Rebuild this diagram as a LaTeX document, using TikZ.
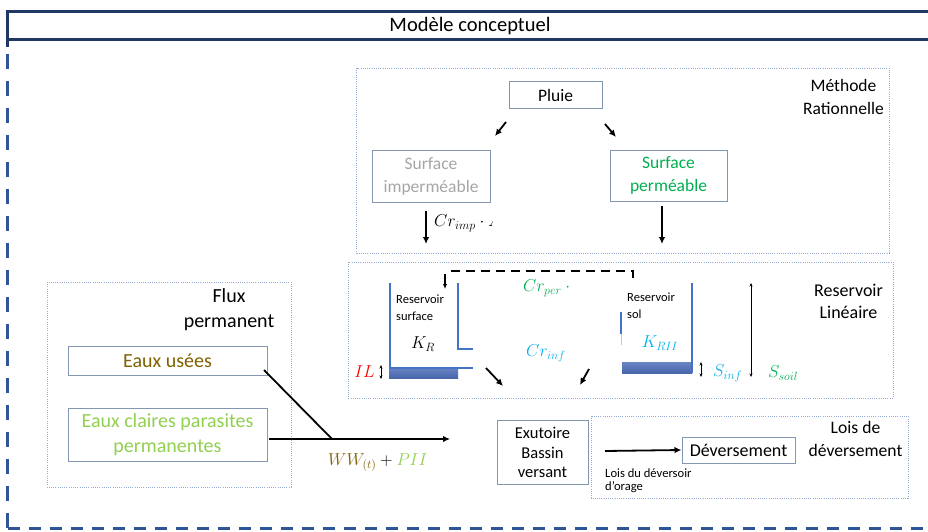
\documentclass[tikz,border=0pt]{standalone}
\usepackage{fontspec}
\setmainfont{Carlito}
\usetikzlibrary{arrows.meta}
\definecolor{navy}{RGB}{32,56,100}
\definecolor{dashblue}{RGB}{47,85,151}
\definecolor{boxgray}{RGB}{132,151,176}
\definecolor{dotblue}{RGB}{150,172,215}
\definecolor{impgray}{RGB}{166,166,166}
\definecolor{pgreen}{RGB}{0,176,80}
\definecolor{cyanb}{RGB}{0,176,240}
\definecolor{brownw}{RGB}{128,96,0}
\definecolor{lgreen}{RGB}{146,208,80}
\definecolor{wallblue}{RGB}{68,114,196}
\definecolor{sedblue}{RGB}{72,102,172}
\definecolor{sedtop}{RGB}{105,132,195}
\definecolor{faintblue}{RGB}{180,200,235}
\newcommand\szTitle{\fontsize{20.5}{24}\selectfont}
\newcommand\szMain{\fontsize{17.5}{23}\selectfont}
\newcommand\szFlux{\fontsize{20}{24.5}\selectfont}
\newcommand\szSmall{\fontsize{12.5}{17}\selectfont}
\newcommand\szExu{\fontsize{16.5}{19.5}\selectfont}
\newcommand\szMath{\fontsize{17}{19}\selectfont}
\tikzset{
  boxn/.style={draw=boxgray, line width=1pt, inner sep=0pt, align=center},
  framebox/.style={draw=dotblue, line width=0.7pt, dash pattern=on 1pt off 1.2pt},
  lab/.style={inner sep=0pt, align=center},
  labl/.style={inner sep=0pt, align=left, anchor=west},
  mathlab/.style={inner sep=0pt, font=\szMath},
  arr/.style={-{Latex[length=7pt,width=6.5pt]}, line width=1.8pt},
  wall/.style={draw=wallblue, line width=2pt},
  sediment/.style={top color=sedtop, bottom color=sedblue},
  dblarr/.style={{Stealth[length=3.5pt,width=3pt]}-{Stealth[length=3.5pt,width=3pt]}, line width=0.8pt},
}
\begin{document}
\begin{tikzpicture}[x=1pt,y=-1pt]
\useasboundingbox (0,0) rectangle (928,532);
\clip (0,0) rectangle (928,532);
\fill[white] (0,0) rectangle (928,532);

% ---- title bar and outer frame
\draw[navy, line width=3pt] (940,12) -- (7.5,12) -- (7.5,40) -- (940,40);
\draw[navy, line width=3pt] (7.5,40) -- (7.5,47);
\node[lab, font=\szTitle] (title) at (470,26) {Modèle conceptuel};
\draw[dashblue, line width=3pt, dash pattern=on 15pt off 12pt] (7.5,54) -- (7.5,528);
\draw[dashblue, line width=3pt, dash pattern=on 12pt off 9pt] (7.5,528) -- (940,528);

% ---- frames
\draw[framebox] (356.5,68) rectangle (889,253);
\draw[framebox] (348,262) rectangle (893,398);
\draw[framebox] (47,282) rectangle (291,487);
\draw[framebox] (591,416) rectangle (908,498);

\node[lab, font=\szMain] (lmeth) at (843.5,96.5) {Méthode\\Rationnelle};
\node[lab, font=\fontsize{18}{22}\selectfont] (lres) at (848.5,301) {Reservoir\\Linéaire};
\node[lab, font=\szFlux] (lflux) at (229,309.5) {Flux\\permanent};
\node[lab, font=\fontsize{17.6}{23}\selectfont] (llois) at (855.5,438.5) {Lois de\\déversement};

% ---- Méthode rationnelle
\node[boxn, font=\szMain, minimum width=93pt, minimum height=27pt] (pluie) at (555.5,95.5) {Pluie};
\node[boxn, font=\szMain, text=impgray, minimum width=118pt, minimum height=52pt] (simp) at (431,176) {Surface\\imperméable};
\node[boxn, font=\szMain, text=pgreen, minimum width=117pt, minimum height=51pt] (sper) at (668.5,175.5) {Surface\\perméable};

\coordinate (a1s) at (506,122); \coordinate (a1e) at (495,136);
\coordinate (a2s) at (605,124); \coordinate (a2e) at (616,137);
\draw[arr] (a1s) -- (a1e);
\draw[arr] (a2s) -- (a2e);
\coordinate (d1s) at (426,211); \coordinate (d1e) at (426,244);
\coordinate (d2s) at (662,206); \coordinate (d2e) at (662,244);
\draw[arr] (d1s) -- (d1e);
\draw[arr] (d2s) -- (d2e);
\begin{scope}
\clip (430,200) rectangle (492,245);
\node[mathlab, anchor=west] (crimp) at (434,223) {$Cr_{imp}\cdot A$};
\end{scope}

% ---- Reservoir surface
\shade[sediment] (389,368) rectangle (458,378);
\draw[wall] (390,283) -- (390,368) -- (473,368);
\draw[wall] (458,283) -- (458,349) -- (473,349);
\node[labl, font=\szSmall] (rsurf) at (396,307.5) {Reservoir\\surface};
\node[mathlab] (kr) at (423,344) {$K_R$};
\node[mathlab, text=red] (il) at (364.5,372) {$IL$};
\coordinate (ilt) at (381,365); \coordinate (ilb) at (381,379);
\draw[dblarr] (ilt) -- (ilb);

% dashed return
\coordinate (dsa) at (633,278); \coordinate (dsb) at (633,271); \coordinate (dsc) at (446,271);
\draw[line width=1.8pt, dash pattern=on 9pt off 6pt] (dsa) -- (dsb) -- (dsc);
\coordinate (ins) at (445,274); \coordinate (ine) at (445,289);
\draw[-{Latex[length=5pt,width=4.5pt]}, line width=1.2pt] (ins) -- (ine);

\begin{scope}
\clip (515,270) rectangle (569,370);
\node[mathlab, text=pgreen, anchor=west] (crper) at (523,288) {$Cr_{per}\cdot A$};
\node[mathlab, text=cyanb, anchor=west] (crinf) at (526,353) {$Cr_{inf}\cdot A$};
\end{scope}

\coordinate (o1s) at (486,368); \coordinate (o1e) at (503,386);
\coordinate (o2s) at (589,369); \coordinate (o2e) at (580,385);
\draw[arr] (o1s) -- (o1e);
\draw[arr] (o2s) -- (o2e);

% ---- Reservoir sol
\shade[sediment] (622,362) rectangle (692,373);
\draw[wall] (692,283) -- (692,373);
\draw[wall] (621,312) -- (621,334);
\draw[faintblue, line width=1pt] (621,334) -- (621,345);
\node[labl, font=\szSmall] (rsol) at (627,306) {Reservoir\\sol};
\node[mathlab, text=cyanb] (krii) at (660,343) {$K_{RII}$};
\coordinate (sit) at (701,362); \coordinate (sib) at (701,377);
\draw[dblarr] (sit) -- (sib);
\node[mathlab, text=cyanb, anchor=west] (sinf) at (713,373) {$S_{inf}$};
\coordinate (sst) at (751,283); \coordinate (ssb) at (751,377);
\draw[dblarr] (sst) -- (ssb);
\node[mathlab, text=pgreen, anchor=west] (ssoil) at (768,373) {$S_{soil}$};

% ---- Flux permanent
\node[boxn, font=\szFlux, text=brownw, minimum width=199pt, minimum height=29pt] (eu) at (167.5,360.5) {Eaux usées};
\node[boxn, font=\szFlux, text=lgreen, minimum width=199pt, minimum height=53pt] (ecp) at (167.5,434.5) {Eaux claires parasites\\permanentes};
\coordinate (euc) at (264,370);
\coordinate (junc) at (332,439);
\coordinate (ecps) at (269,439);
\coordinate (fend) at (450,439);
\draw[line width=1.8pt] (euc) -- (junc);
\draw[arr] (ecps) -- (fend);
\node[mathlab, anchor=west, font=\fontsize{17}{19}\selectfont] (wwpii) at (328,463) {$\color{brownw}WW_{(t)}\color{black}+\color{lgreen}PII$};

% ---- Exutoire et déversement
\node[boxn, font=\szExu, minimum width=91pt, minimum height=64pt] (exu) at (542.5,452.5) {Exutoire\\Bassin\\versant};
\node[boxn, font=\fontsize{18}{22}\selectfont, minimum width=113pt, minimum height=26pt] (dev) at (738.5,450) {Déversement};
\coordinate (dvs) at (605,451);
\draw[arr] (dvs) -- (dev.west);
\node[labl, font=\fontsize{12.6}{13}\selectfont] (ldev) at (605,480.5) {Lois du déversoir\\d’orage};
\end{tikzpicture}
\end{document}
